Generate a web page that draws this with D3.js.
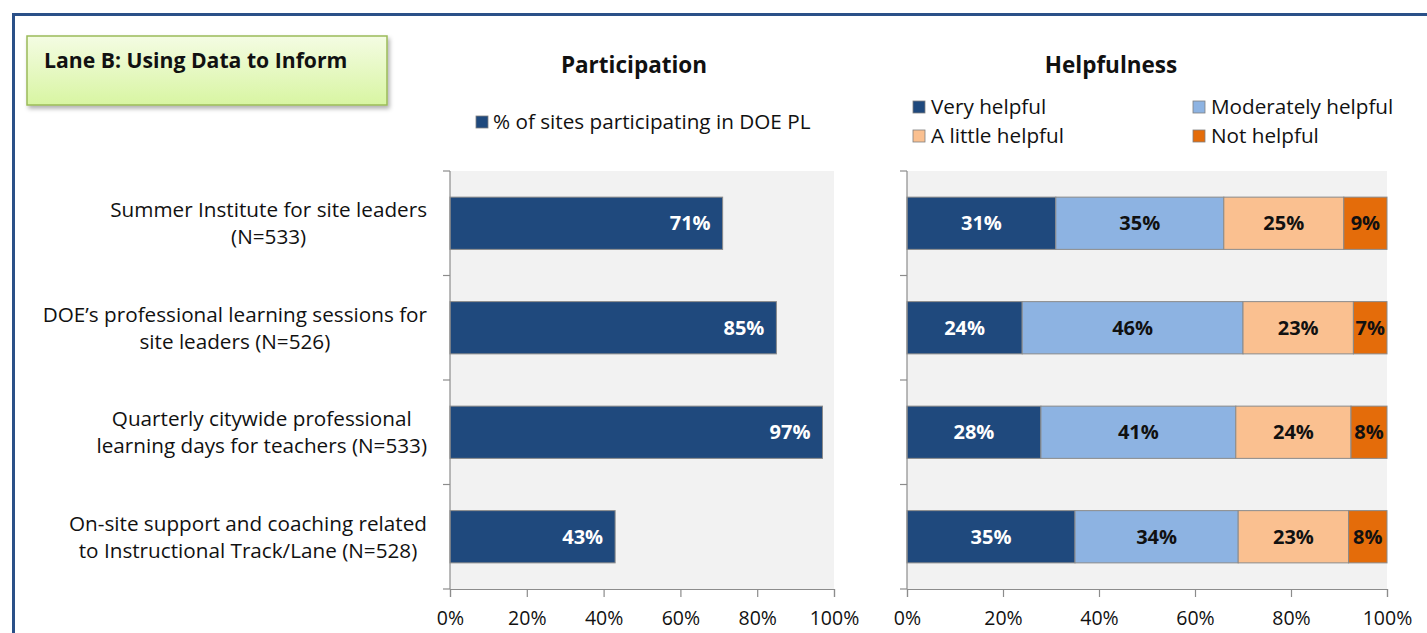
<!DOCTYPE html>
<html>
<head>
<meta charset="utf-8">
<script src="https://cdn.jsdelivr.net/npm/d3@7"></script>
<style>
  html, body { margin: 0; padding: 0; background: #fff; }
  svg { display: block; font-family: "Open Sans", Lato, sans-serif; }
</style>
</head>
<body>
<svg id="chart" width="1427" height="633"></svg>
<script>
// Survey items (two-line labels)
const categories = [
  ["Summer Institute for site leaders", "(N=533)"],
  ["DOE\u2019s professional learning sessions for", "site leaders (N=526)"],
  ["Quarterly citywide professional", "learning days for teachers (N=533)"],
  ["On-site support and coaching related", "to Instructional Track/Lane (N=528)"]
];
const categoryKeys = ["summer", "doeSessions", "quarterly", "onsite"];

// Participation (% of sites)
const participation = [71, 85, 97, 43];

// Helpfulness ratings (% of participating sites)
const helpSeries = ["Very helpful", "Moderately helpful", "A little helpful", "Not helpful"];
const veryHelpful       = [31, 24, 27.9, 35];
const moderatelyHelpful = [35, 46, 40.6, 34];
const littleHelpful     = [25, 23, 24.0, 23];
const notHelpful        = [9, 7, 7.5, 8];

const xTicks = [0, 20, 40, 60, 80, 100];

const helpColors = ["#1F497D", "#8DB3E2", "#FAC090", "#E46C0A"];
const helpText = ["#ffffff", "#111111", "#111111", "#111111"];

const FONT = "'Open Sans', Lato, sans-serif";
const LABEL_SIZE = 20.7;
const svg = d3.select("#chart");
const pct = d => d3.format(".0f")(d) + "%";

// Frame lines
svg.append("rect").attr("x", 12).attr("y", 13).attr("width", 1415).attr("height", 3).attr("fill", "#2A5088");
svg.append("rect").attr("x", 12).attr("y", 13).attr("width", 3).attr("height", 620).attr("fill", "#2A5088");

// Lane title box
const defs = svg.append("defs");
const grad = defs.append("linearGradient").attr("id", "laneGrad").attr("x1", 0).attr("y1", 0).attr("x2", 0).attr("y2", 1);
grad.append("stop").attr("offset", "0%").attr("stop-color", "#F4FCE3");
grad.append("stop").attr("offset", "100%").attr("stop-color", "#D8F5A2");
const shadow = defs.append("filter").attr("id", "laneShadow").attr("x", "-10%").attr("y", "-20%").attr("width", "130%").attr("height", "160%");
shadow.append("feDropShadow").attr("dx", 2).attr("dy", 3).attr("stdDeviation", 2).attr("flood-color", "#000").attr("flood-opacity", 0.3);

svg.append("rect").attr("x", 27).attr("y", 36).attr("width", 360).attr("height", 69)
  .attr("fill", "url(#laneGrad)").attr("stroke", "#9BBB59").attr("stroke-width", 1.5)
  .attr("filter", "url(#laneShadow)");
svg.append("text").attr("x", 44).attr("y", 68).attr("font-size", 21.2).attr("font-weight", 700)
  .attr("fill", "#111").text("Lane B: Using Data to Inform");

// Shared vertical band scale
const plotTop = 171, plotBottom = 589;
const y = d3.scaleBand().domain(categoryKeys).range([plotTop, plotBottom]).paddingInner(0.5).paddingOuter(0.25);

// ---------- Participation panel ----------
const xL = d3.scaleLinear().domain([0, 100]).range([450, 834]);

svg.append("text").attr("x", 634).attr("y", 73).attr("text-anchor", "middle")
  .attr("font-size", 22.5).attr("font-weight", 700).attr("fill", "#111").text("Participation");

svg.append("rect").attr("x", 476).attr("y", 116).attr("width", 12).attr("height", 12)
  .attr("fill", helpColors[0]).attr("stroke", "#7f7f7f").attr("stroke-width", 0.8);
svg.append("text").attr("x", 493).attr("y", 129).attr("font-size", LABEL_SIZE).attr("fill", "#111")
  .text("% of sites participating in DOE PL");

svg.append("rect").attr("x", xL(0)).attr("y", plotTop).attr("width", xL(100) - xL(0))
  .attr("height", plotBottom - plotTop).attr("fill", "#F2F2F2");

// Category labels: each block right-aligned to the axis, lines centred within the block
const labelRight = 427;
const catG = svg.append("g");
categories.forEach((lines, i) => {
  const cy = y(categoryKeys[i]) + y.bandwidth() / 2;
  const t = catG.append("text").attr("text-anchor", "middle")
    .attr("font-size", LABEL_SIZE).attr("fill", "#111");
  const spans = lines.map((ln, j) => t.append("tspan").attr("y", cy - 6 + j * 27).text(ln));
  const maxW = d3.max(spans, s => s.node().getComputedTextLength());
  spans.forEach(s => s.attr("x", labelRight - maxW / 2));
});

svg.append("g").selectAll("rect").data(participation).join("rect")
  .attr("x", xL(0)).attr("y", (d, i) => y(categoryKeys[i]))
  .attr("width", d => xL(d) - xL(0)).attr("height", y.bandwidth())
  .attr("fill", helpColors[0]).attr("stroke", "#8a8a8a").attr("stroke-width", 1);

svg.append("g").selectAll("text").data(participation).join("text")
  .attr("x", d => xL(d) - 12).attr("y", (d, i) => y(categoryKeys[i]) + y.bandwidth() / 2 + 7)
  .attr("text-anchor", "end").attr("font-size", 20).attr("font-weight", 700).attr("fill", "#fff")
  .text(d => pct(d));

function drawAxes(x, x0) {
  svg.append("line").attr("x1", x0).attr("x2", x0).attr("y1", plotTop).attr("y2", plotBottom)
    .attr("stroke", "#8c8c8c").attr("stroke-width", 1.2);
  const yb = [plotTop, plotTop + (plotBottom - plotTop) / 4, plotTop + (plotBottom - plotTop) / 2,
    plotTop + 3 * (plotBottom - plotTop) / 4, plotBottom];
  svg.append("g").selectAll("line").data(yb).join("line")
    .attr("x1", x0 - 7).attr("x2", x0).attr("y1", d => d).attr("y2", d => d)
    .attr("stroke", "#8c8c8c").attr("stroke-width", 1.2);
  const ax = svg.append("g").attr("transform", `translate(0,${plotBottom})`)
    .call(d3.axisBottom(x).tickValues(xTicks).tickFormat(d => d + "%").tickSize(8).tickPadding(14));
  ax.select(".domain").attr("stroke", "#8c8c8c").attr("stroke-width", 1.2);
  ax.selectAll(".tick line").attr("stroke", "#8c8c8c").attr("stroke-width", 1.2);
  ax.selectAll(".tick text").attr("font-size", 19.5).attr("fill", "#111").attr("font-family", FONT);
}
drawAxes(xL, xL(0));

// ---------- Helpfulness panel ----------
const xR = d3.scaleLinear().domain([0, 100]).range([907, 1387]);

svg.append("text").attr("x", 1111).attr("y", 73).attr("text-anchor", "middle")
  .attr("font-size", 22.5).attr("font-weight", 700).attr("fill", "#111").text("Helpfulness");

const legendPos = [[913, 107], [1193, 107], [913, 136], [1193, 136]];
helpSeries.forEach((s, i) => {
  const [lx, ly] = legendPos[i];
  svg.append("rect").attr("x", lx).attr("y", ly - 6).attr("width", 12).attr("height", 12)
    .attr("fill", helpColors[i]).attr("stroke", "#7f7f7f").attr("stroke-width", 0.8);
  svg.append("text").attr("x", lx + 18).attr("y", ly + 7).attr("font-size", LABEL_SIZE).attr("fill", "#111").text(s);
});

svg.append("rect").attr("x", xR(0)).attr("y", plotTop).attr("width", xR(100) - xR(0))
  .attr("height", plotBottom - plotTop).attr("fill", "#F2F2F2");

const helpRows = categoryKeys.map((k, i) => ({
  key: k,
  "Very helpful": veryHelpful[i],
  "Moderately helpful": moderatelyHelpful[i],
  "A little helpful": littleHelpful[i],
  "Not helpful": notHelpful[i]
}));
const stacked = d3.stack().keys(helpSeries)(helpRows);

const segG = svg.append("g");
stacked.forEach((layer, si) => {
  const g = segG.append("g");
  g.selectAll("rect").data(layer).join("rect")
    .attr("x", d => xR(d[0])).attr("y", d => y(d.data.key))
    .attr("width", d => xR(d[1]) - xR(d[0])).attr("height", y.bandwidth())
    .attr("fill", helpColors[si]).attr("stroke", "#8a8a8a").attr("stroke-width", 1);
  g.selectAll("text").data(layer).join("text")
    .attr("x", d => (xR(d[0]) + xR(d[1])) / 2).attr("y", d => y(d.data.key) + y.bandwidth() / 2 + 7)
    .attr("text-anchor", "middle").attr("font-size", 20).attr("font-weight", 700)
    .attr("fill", helpText[si]).text(d => pct(d[1] - d[0]));
});

drawAxes(xR, xR(0));
</script>
</body>
</html>
